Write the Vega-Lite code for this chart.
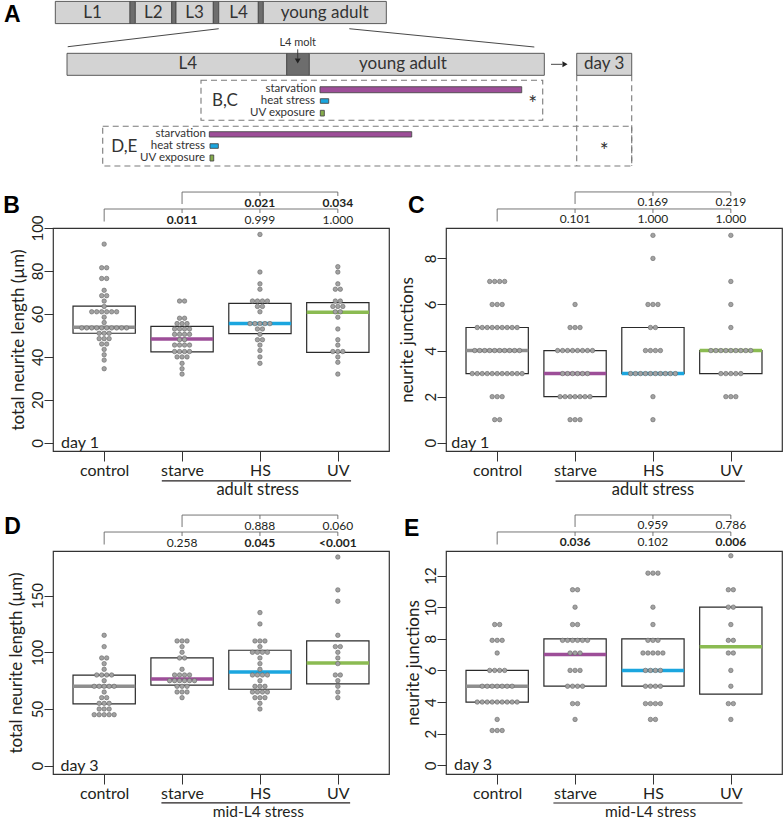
{
"$schema": "https://vega.github.io/schema/vega-lite/v6.json",
"padding": {"left": 2, "top": 0, "right": 0, "bottom": 0},
"background": "white",
"config": {
  "font": "Lato",
  "view": {"stroke": "#333", "strokeWidth": 1.2},
  "axis": {"grid": false, "domain": false, "tickColor": "#333", "tickWidth": 1, "labelColor": "#231f20", "titleColor": "#231f20", "titleFontWeight": "normal", "labelFontSize": 15, "titleFontSize": 17, "labelOverlap": false, "labelSeparation": 0},
  "axisX": {"tickSize": 10, "labelPadding": 1, "labelFontSize": 16},
  "axisY": {"tickSize": 9, "labelPadding": 2, "labelAngle": -90, "labelAlign": "center", "labelBaseline": "alphabetic"}
},
"datasets": {
  "box": [
    {"p":"B","g":1,"q1":51,"med":53.8,"q3":63.6},{"p":"B","g":2,"q1":42.3,"med":48.3,"q3":54.2},{"p":"B","g":3,"q1":50.8,"med":55.5,"q3":64.9},{"p":"B","g":4,"q1":42.1,"med":60.8,"q3":65.3},
    {"p":"C","g":1,"q1":3,"med":4,"q3":5},{"p":"C","g":2,"q1":2,"med":3,"q3":4},{"p":"C","g":3,"q1":3,"med":3,"q3":5},{"p":"C","g":4,"q1":3,"med":4,"q3":4},
    {"p":"D","g":1,"q1":54.6,"med":70,"q3":79.8},{"p":"D","g":2,"q1":71,"med":76.5,"q3":95.1},{"p":"D","g":3,"q1":67.4,"med":82.7,"q3":101.8},{"p":"D","g":4,"q1":72.2,"med":90.6,"q3":110},
    {"p":"E","g":1,"q1":4,"med":5,"q3":6},{"p":"E","g":2,"q1":5,"med":7,"q3":8},{"p":"E","g":3,"q1":5,"med":6,"q3":8},{"p":"E","g":4,"q1":4.5,"med":7.5,"q3":10}
  ],
  "pts": [
    {"p":"B","g":1,"v":92.5},{"p":"B","g":1,"v":81.5},{"p":"B","g":1,"v":81.5},{"p":"B","g":1,"v":76.5},{"p":"B","g":1,"v":76.5},{"p":"B","g":1,"v":71},{"p":"B","g":1,"v":68.5},{"p":"B","g":1,"v":68.5},{"p":"B","g":1,"v":66},{"p":"B","g":1,"v":63.5},
    {"p":"B","g":1,"v":61},{"p":"B","g":1,"v":61},{"p":"B","g":1,"v":61},{"p":"B","g":1,"v":61},{"p":"B","g":1,"v":61},{"p":"B","g":1,"v":61},{"p":"B","g":1,"v":58.5},{"p":"B","g":1,"v":56},
    {"p":"B","g":1,"v":53.5},{"p":"B","g":1,"v":53.5},{"p":"B","g":1,"v":53.5},{"p":"B","g":1,"v":53.5},{"p":"B","g":1,"v":53.5},{"p":"B","g":1,"v":53.5},{"p":"B","g":1,"v":53.5},{"p":"B","g":1,"v":53.5},{"p":"B","g":1,"v":53.5},{"p":"B","g":1,"v":53.5},
    {"p":"B","g":1,"v":51},{"p":"B","g":1,"v":51},{"p":"B","g":1,"v":51},{"p":"B","g":1,"v":48.5},{"p":"B","g":1,"v":48.5},{"p":"B","g":1,"v":48.5},{"p":"B","g":1,"v":46},{"p":"B","g":1,"v":46},{"p":"B","g":1,"v":43.5},{"p":"B","g":1,"v":41},{"p":"B","g":1,"v":38.5},{"p":"B","g":1,"v":34.5},
    {"p":"B","g":2,"v":66},{"p":"B","g":2,"v":66},{"p":"B","g":2,"v":58},{"p":"B","g":2,"v":58},{"p":"B","g":2,"v":55.5},{"p":"B","g":2,"v":55.5},{"p":"B","g":2,"v":55.5},{"p":"B","g":2,"v":53},{"p":"B","g":2,"v":53},{"p":"B","g":2,"v":53},{"p":"B","g":2,"v":53},
    {"p":"B","g":2,"v":50.5},{"p":"B","g":2,"v":50.5},{"p":"B","g":2,"v":50.5},{"p":"B","g":2,"v":50.5},{"p":"B","g":2,"v":48},{"p":"B","g":2,"v":48},{"p":"B","g":2,"v":45.5},{"p":"B","g":2,"v":45.5},{"p":"B","g":2,"v":45.5},{"p":"B","g":2,"v":45.5},
    {"p":"B","g":2,"v":42.5},{"p":"B","g":2,"v":42.5},{"p":"B","g":2,"v":42.5},{"p":"B","g":2,"v":42.5},{"p":"B","g":2,"v":40},{"p":"B","g":2,"v":40},{"p":"B","g":2,"v":40},{"p":"B","g":2,"v":37},{"p":"B","g":2,"v":34.5},{"p":"B","g":2,"v":32},
    {"p":"B","g":3,"v":97},{"p":"B","g":3,"v":79.5},{"p":"B","g":3,"v":74},{"p":"B","g":3,"v":71.5},{"p":"B","g":3,"v":66},{"p":"B","g":3,"v":66},{"p":"B","g":3,"v":66},{"p":"B","g":3,"v":66},{"p":"B","g":3,"v":63.5},{"p":"B","g":3,"v":63.5},{"p":"B","g":3,"v":61},
    {"p":"B","g":3,"v":55.5},{"p":"B","g":3,"v":55.5},{"p":"B","g":3,"v":55.5},{"p":"B","g":3,"v":55.5},{"p":"B","g":3,"v":55.5},{"p":"B","g":3,"v":53},{"p":"B","g":3,"v":53},{"p":"B","g":3,"v":50.5},{"p":"B","g":3,"v":48},{"p":"B","g":3,"v":48},{"p":"B","g":3,"v":45.5},{"p":"B","g":3,"v":43},{"p":"B","g":3,"v":40},{"p":"B","g":3,"v":37},
    {"p":"B","g":4,"v":82},{"p":"B","g":4,"v":79.5},{"p":"B","g":4,"v":74},{"p":"B","g":4,"v":71.5},{"p":"B","g":4,"v":71.5},{"p":"B","g":4,"v":66},{"p":"B","g":4,"v":66},{"p":"B","g":4,"v":63.5},{"p":"B","g":4,"v":63.5},{"p":"B","g":4,"v":63.5},{"p":"B","g":4,"v":61},{"p":"B","g":4,"v":61},
    {"p":"B","g":4,"v":58.5},{"p":"B","g":4,"v":53},{"p":"B","g":4,"v":48},{"p":"B","g":4,"v":45.5},{"p":"B","g":4,"v":42.5},{"p":"B","g":4,"v":42.5},{"p":"B","g":4,"v":42.5},{"p":"B","g":4,"v":40},{"p":"B","g":4,"v":37.5},{"p":"B","g":4,"v":32},
    {"p":"C","g":1,"v":7},{"p":"C","g":1,"v":7},{"p":"C","g":1,"v":7},{"p":"C","g":1,"v":7},{"p":"C","g":1,"v":6},{"p":"C","g":1,"v":6},{"p":"C","g":1,"v":6},
    {"p":"C","g":1,"v":5},{"p":"C","g":1,"v":5},{"p":"C","g":1,"v":5},{"p":"C","g":1,"v":5},{"p":"C","g":1,"v":5},{"p":"C","g":1,"v":5},{"p":"C","g":1,"v":5},{"p":"C","g":1,"v":5},{"p":"C","g":1,"v":5},
    {"p":"C","g":1,"v":4},{"p":"C","g":1,"v":4},{"p":"C","g":1,"v":4},{"p":"C","g":1,"v":4},{"p":"C","g":1,"v":4},{"p":"C","g":1,"v":4},{"p":"C","g":1,"v":4},{"p":"C","g":1,"v":4},{"p":"C","g":1,"v":4},{"p":"C","g":1,"v":4},
    {"p":"C","g":1,"v":3},{"p":"C","g":1,"v":3},{"p":"C","g":1,"v":3},{"p":"C","g":1,"v":3},{"p":"C","g":1,"v":3},{"p":"C","g":1,"v":3},{"p":"C","g":1,"v":3},{"p":"C","g":1,"v":3},{"p":"C","g":1,"v":3},{"p":"C","g":1,"v":3},{"p":"C","g":1,"v":3},
    {"p":"C","g":1,"v":2},{"p":"C","g":1,"v":2},{"p":"C","g":1,"v":2},{"p":"C","g":1,"v":1},{"p":"C","g":1,"v":1},
    {"p":"C","g":2,"v":6},{"p":"C","g":2,"v":5},{"p":"C","g":2,"v":5},{"p":"C","g":2,"v":5},
    {"p":"C","g":2,"v":4},{"p":"C","g":2,"v":4},{"p":"C","g":2,"v":4},{"p":"C","g":2,"v":4},{"p":"C","g":2,"v":4},{"p":"C","g":2,"v":4},{"p":"C","g":2,"v":4},{"p":"C","g":2,"v":4},
    {"p":"C","g":2,"v":3},{"p":"C","g":2,"v":3},{"p":"C","g":2,"v":3},{"p":"C","g":2,"v":3},{"p":"C","g":2,"v":3},{"p":"C","g":2,"v":3},
    {"p":"C","g":2,"v":2},{"p":"C","g":2,"v":2},{"p":"C","g":2,"v":2},{"p":"C","g":2,"v":2},{"p":"C","g":2,"v":2},{"p":"C","g":2,"v":2},{"p":"C","g":2,"v":2},
    {"p":"C","g":2,"v":1},{"p":"C","g":2,"v":1},{"p":"C","g":2,"v":1},
    {"p":"C","g":3,"v":9},{"p":"C","g":3,"v":8},{"p":"C","g":3,"v":6},{"p":"C","g":3,"v":6},{"p":"C","g":3,"v":6},{"p":"C","g":3,"v":5},{"p":"C","g":3,"v":5},
    {"p":"C","g":3,"v":4},{"p":"C","g":3,"v":4},{"p":"C","g":3,"v":4},{"p":"C","g":3,"v":4},
    {"p":"C","g":3,"v":3},{"p":"C","g":3,"v":3},{"p":"C","g":3,"v":3},{"p":"C","g":3,"v":3},{"p":"C","g":3,"v":3},{"p":"C","g":3,"v":3},{"p":"C","g":3,"v":3},{"p":"C","g":3,"v":3},{"p":"C","g":3,"v":3},{"p":"C","g":3,"v":3},
    {"p":"C","g":3,"v":2},{"p":"C","g":3,"v":1},
    {"p":"C","g":4,"v":9},{"p":"C","g":4,"v":7},{"p":"C","g":4,"v":6},{"p":"C","g":4,"v":5},
    {"p":"C","g":4,"v":4},{"p":"C","g":4,"v":4},{"p":"C","g":4,"v":4},{"p":"C","g":4,"v":4},{"p":"C","g":4,"v":4},{"p":"C","g":4,"v":4},{"p":"C","g":4,"v":4},{"p":"C","g":4,"v":4},{"p":"C","g":4,"v":4},
    {"p":"C","g":4,"v":3},{"p":"C","g":4,"v":3},{"p":"C","g":4,"v":3},{"p":"C","g":4,"v":3},{"p":"C","g":4,"v":3},
    {"p":"C","g":4,"v":2},{"p":"C","g":4,"v":2},{"p":"C","g":4,"v":2},
    {"p":"D","g":1,"v":115},{"p":"D","g":1,"v":105},{"p":"D","g":1,"v":95},{"p":"D","g":1,"v":95},{"p":"D","g":1,"v":90},{"p":"D","g":1,"v":85},
    {"p":"D","g":1,"v":80},{"p":"D","g":1,"v":80},{"p":"D","g":1,"v":80},{"p":"D","g":1,"v":80},{"p":"D","g":1,"v":75},
    {"p":"D","g":1,"v":70},{"p":"D","g":1,"v":70},{"p":"D","g":1,"v":70},{"p":"D","g":1,"v":70},{"p":"D","g":1,"v":70},{"p":"D","g":1,"v":65},{"p":"D","g":1,"v":60},{"p":"D","g":1,"v":60},
    {"p":"D","g":1,"v":55},{"p":"D","g":1,"v":55},{"p":"D","g":1,"v":55},{"p":"D","g":1,"v":50},{"p":"D","g":1,"v":50},{"p":"D","g":1,"v":50},
    {"p":"D","g":1,"v":45},{"p":"D","g":1,"v":45},{"p":"D","g":1,"v":45},{"p":"D","g":1,"v":45},{"p":"D","g":1,"v":45},
    {"p":"D","g":2,"v":110},{"p":"D","g":2,"v":110},{"p":"D","g":2,"v":110},{"p":"D","g":2,"v":105},{"p":"D","g":2,"v":100},{"p":"D","g":2,"v":95},{"p":"D","g":2,"v":95},{"p":"D","g":2,"v":85},
    {"p":"D","g":2,"v":80},{"p":"D","g":2,"v":80},{"p":"D","g":2,"v":80},{"p":"D","g":2,"v":80},
    {"p":"D","g":2,"v":75},{"p":"D","g":2,"v":75},{"p":"D","g":2,"v":75},{"p":"D","g":2,"v":75},{"p":"D","g":2,"v":75},{"p":"D","g":2,"v":75},
    {"p":"D","g":2,"v":70},{"p":"D","g":2,"v":70},{"p":"D","g":2,"v":70},{"p":"D","g":2,"v":65},{"p":"D","g":2,"v":65},{"p":"D","g":2,"v":65},{"p":"D","g":2,"v":60},
    {"p":"D","g":3,"v":135},{"p":"D","g":3,"v":125},{"p":"D","g":3,"v":110},{"p":"D","g":3,"v":110},{"p":"D","g":3,"v":110},{"p":"D","g":3,"v":105},
    {"p":"D","g":3,"v":100},{"p":"D","g":3,"v":100},{"p":"D","g":3,"v":100},{"p":"D","g":3,"v":100},{"p":"D","g":3,"v":95},{"p":"D","g":3,"v":90},{"p":"D","g":3,"v":85},
    {"p":"D","g":3,"v":80},{"p":"D","g":3,"v":80},{"p":"D","g":3,"v":80},{"p":"D","g":3,"v":80},{"p":"D","g":3,"v":75},
    {"p":"D","g":3,"v":70},{"p":"D","g":3,"v":70},{"p":"D","g":3,"v":70},{"p":"D","g":3,"v":65},{"p":"D","g":3,"v":65},{"p":"D","g":3,"v":65},{"p":"D","g":3,"v":65},
    {"p":"D","g":3,"v":60},{"p":"D","g":3,"v":60},{"p":"D","g":3,"v":60},{"p":"D","g":3,"v":55},{"p":"D","g":3,"v":50},
    {"p":"D","g":4,"v":184},{"p":"D","g":4,"v":155},{"p":"D","g":4,"v":145},{"p":"D","g":4,"v":115},{"p":"D","g":4,"v":105},{"p":"D","g":4,"v":105},{"p":"D","g":4,"v":100},{"p":"D","g":4,"v":95},
    {"p":"D","g":4,"v":90},{"p":"D","g":4,"v":80},{"p":"D","g":4,"v":80},{"p":"D","g":4,"v":75},{"p":"D","g":4,"v":70},{"p":"D","g":4,"v":65},{"p":"D","g":4,"v":60},
    {"p":"E","g":1,"v":8.9},{"p":"E","g":1,"v":8.9},{"p":"E","g":1,"v":7.9},{"p":"E","g":1,"v":7.9},{"p":"E","g":1,"v":7.9},{"p":"E","g":1,"v":7.1},
    {"p":"E","g":1,"v":6},{"p":"E","g":1,"v":6},{"p":"E","g":1,"v":6},{"p":"E","g":1,"v":6},
    {"p":"E","g":1,"v":5},{"p":"E","g":1,"v":5},{"p":"E","g":1,"v":5},{"p":"E","g":1,"v":5},{"p":"E","g":1,"v":5},{"p":"E","g":1,"v":5},{"p":"E","g":1,"v":5},
    {"p":"E","g":1,"v":4},{"p":"E","g":1,"v":4},{"p":"E","g":1,"v":4},{"p":"E","g":1,"v":4},{"p":"E","g":1,"v":4},{"p":"E","g":1,"v":4},{"p":"E","g":1,"v":4},{"p":"E","g":1,"v":4},{"p":"E","g":1,"v":4},
    {"p":"E","g":1,"v":2.9},{"p":"E","g":1,"v":2.2},{"p":"E","g":1,"v":2.2},{"p":"E","g":1,"v":2.2},
    {"p":"E","g":2,"v":11.1},{"p":"E","g":2,"v":11.1},{"p":"E","g":2,"v":10},{"p":"E","g":2,"v":8.9},{"p":"E","g":2,"v":8.9},
    {"p":"E","g":2,"v":7.9},{"p":"E","g":2,"v":7.9},{"p":"E","g":2,"v":7.9},{"p":"E","g":2,"v":7.9},{"p":"E","g":2,"v":7.9},{"p":"E","g":2,"v":7.9},
    {"p":"E","g":2,"v":7.1},{"p":"E","g":2,"v":7.1},{"p":"E","g":2,"v":7.1},{"p":"E","g":2,"v":6},{"p":"E","g":2,"v":6},{"p":"E","g":2,"v":6},
    {"p":"E","g":2,"v":5},{"p":"E","g":2,"v":5},{"p":"E","g":2,"v":5},{"p":"E","g":2,"v":5},{"p":"E","g":2,"v":3.9},{"p":"E","g":2,"v":3.9},{"p":"E","g":2,"v":2.9},
    {"p":"E","g":3,"v":12.15},{"p":"E","g":3,"v":12.15},{"p":"E","g":3,"v":12.15},{"p":"E","g":3,"v":10},{"p":"E","g":3,"v":8.9},
    {"p":"E","g":3,"v":7.9},{"p":"E","g":3,"v":7.9},{"p":"E","g":3,"v":7.9},
    {"p":"E","g":3,"v":7.1},{"p":"E","g":3,"v":7.1},{"p":"E","g":3,"v":7.1},{"p":"E","g":3,"v":7.1},{"p":"E","g":3,"v":7.1},
    {"p":"E","g":3,"v":6},{"p":"E","g":3,"v":6},{"p":"E","g":3,"v":6},{"p":"E","g":3,"v":6},
    {"p":"E","g":3,"v":5},{"p":"E","g":3,"v":5},{"p":"E","g":3,"v":5},{"p":"E","g":3,"v":5},
    {"p":"E","g":3,"v":3.9},{"p":"E","g":3,"v":3.9},{"p":"E","g":3,"v":3.9},{"p":"E","g":3,"v":3.9},{"p":"E","g":3,"v":2.9},{"p":"E","g":3,"v":2.9},
    {"p":"E","g":4,"v":13.25},{"p":"E","g":4,"v":11.1},{"p":"E","g":4,"v":11.1},{"p":"E","g":4,"v":10},{"p":"E","g":4,"v":10},{"p":"E","g":4,"v":8.9},
    {"p":"E","g":4,"v":7.9},{"p":"E","g":4,"v":7.9},{"p":"E","g":4,"v":7.1},{"p":"E","g":4,"v":7.1},{"p":"E","g":4,"v":6},{"p":"E","g":4,"v":5},
    {"p":"E","g":4,"v":3.9},{"p":"E","g":4,"v":3.9},{"p":"E","g":4,"v":2.9}
  ],
  "brk": [
    {"p":"B","x":1,"x2":4,"y":108.84,"y2":108.84},{"p":"B","x":1,"x2":1,"y":108.84,"y2":103.02},{"p":"B","x":2,"x2":2,"y":108.84,"y2":106.98},{"p":"B","x":3,"x2":3,"y":108.84,"y2":106.98},{"p":"B","x":4,"x2":4,"y":108.84,"y2":106.98},
    {"p":"B","x":2,"x2":4,"y":116.74,"y2":116.74},{"p":"B","x":2,"x2":2,"y":116.74,"y2":111.16},{"p":"B","x":3,"x2":3,"y":116.74,"y2":114.88},{"p":"B","x":4,"x2":4,"y":116.74,"y2":114.88},
    {"p":"C","x":1,"x2":4,"y":10.146,"y2":10.146},{"p":"C","x":1,"x2":1,"y":10.146,"y2":9.603},{"p":"C","x":2,"x2":2,"y":10.146,"y2":9.972},{"p":"C","x":3,"x2":3,"y":10.146,"y2":9.972},{"p":"C","x":4,"x2":4,"y":10.146,"y2":9.972},
    {"p":"C","x":2,"x2":4,"y":10.885,"y2":10.885},{"p":"C","x":2,"x2":2,"y":10.885,"y2":10.363},{"p":"C","x":3,"x2":3,"y":10.885,"y2":10.711},{"p":"C","x":4,"x2":4,"y":10.885,"y2":10.711},
    {"p":"D","x":1,"x2":4,"y":206.03,"y2":206.03},{"p":"D","x":1,"x2":1,"y":206.03,"y2":195.02},{"p":"D","x":2,"x2":2,"y":206.03,"y2":202.5},{"p":"D","x":3,"x2":3,"y":206.03,"y2":202.5},{"p":"D","x":4,"x2":4,"y":206.03,"y2":202.5},
    {"p":"D","x":2,"x2":4,"y":220.99,"y2":220.99},{"p":"D","x":2,"x2":2,"y":220.99,"y2":210.43},{"p":"D","x":3,"x2":3,"y":220.99,"y2":217.47},{"p":"D","x":4,"x2":4,"y":220.99,"y2":217.47},
    {"p":"E","x":1,"x2":4,"y":14.753,"y2":14.753},{"p":"E","x":1,"x2":1,"y":14.753,"y2":13.961},{"p":"E","x":2,"x2":2,"y":14.753,"y2":14.499},{"p":"E","x":3,"x2":3,"y":14.753,"y2":14.499},{"p":"E","x":4,"x2":4,"y":14.753,"y2":14.499},
    {"p":"E","x":2,"x2":4,"y":15.828,"y2":15.828},{"p":"E","x":2,"x2":2,"y":15.828,"y2":15.069},{"p":"E","x":3,"x2":3,"y":15.828,"y2":15.575},{"p":"E","x":4,"x2":4,"y":15.828,"y2":15.575}
  ],
  "pv": [
    {"p":"B","g":3,"y":111.86,"t":"0.021","b":1},{"p":"B","g":4,"y":111.86,"t":"0.034","b":1},{"p":"B","g":2,"y":103.95,"t":"0.011","b":1},{"p":"B","g":3,"y":103.95,"t":"0.999","b":0},{"p":"B","g":4,"y":103.95,"t":"1.000","b":0},
    {"p":"C","g":3,"y":10.429,"t":"0.169","b":0},{"p":"C","g":4,"y":10.429,"t":"0.219","b":0},{"p":"C","g":2,"y":9.69,"t":"0.101","b":0},{"p":"C","g":3,"y":9.69,"t":"1.000","b":0},{"p":"C","g":4,"y":9.69,"t":"1.000","b":0},
    {"p":"D","g":3,"y":211.75,"t":"0.888","b":0},{"p":"D","g":4,"y":211.75,"t":"0.060","b":0},{"p":"D","g":2,"y":196.78,"t":"0.258","b":0},{"p":"D","g":3,"y":196.78,"t":"0.045","b":1},{"p":"D","g":4,"y":196.78,"t":"<0.001","b":1},
    {"p":"E","g":3,"y":15.164,"t":"0.959","b":0},{"p":"E","g":4,"y":15.164,"t":"0.786","b":0},{"p":"E","g":2,"y":14.088,"t":"0.036","b":1},{"p":"E","g":3,"y":14.088,"t":"0.102","b":0},{"p":"E","g":4,"y":14.088,"t":"0.006","b":1}
  ],
  "ann": [
    {"p":"B","k":"let","x":-0.297,"y":106.98,"t":"B"},{"p":"B","k":"day","x":0.446,"y":0,"t":"day 1"},{"p":"B","k":"grp","x":2.97,"y":-22.1,"t":"adult stress"},{"p":"B","k":"line","x":1.74,"x2":4.17,"y":-17.75},
    {"p":"C","k":"let","x":-0.144,"y":9.972,"t":"C"},{"p":"C","k":"day","x":0.41,"y":0,"t":"day 1"},{"p":"C","k":"grp","x":3.0,"y":-2.07,"t":"adult stress"},{"p":"C","k":"line","x":1.75,"x2":4.18,"y":-1.664},
    {"p":"D","k":"let","x":-0.284,"y":204.27,"t":"D"},{"p":"D","k":"day","x":0.44,"y":0,"t":"day 3"},{"p":"D","k":"grp","x":2.98,"y":-40.75,"t":"mid-L4 stress"},{"p":"D","k":"line","x":1.735,"x2":4.158,"y":-32.83},
    {"p":"E","k":"let","x":-0.195,"y":14.499,"t":"E"},{"p":"E","k":"day","x":0.446,"y":0,"t":"day 3"},{"p":"E","k":"grp","x":2.97,"y":-2.955,"t":"mid-L4 stress"},{"p":"E","k":"line","x":1.722,"x2":4.15,"y":-2.385}
  ],
  "diag": [
    {"k":"seg","c":"stage","x":13.58,"x2":32.25,"y":0.1,"y2":5.65},{"k":"seg","c":"molt","x":32.25,"x2":33.58,"y":0.1,"y2":5.65},
    {"k":"seg","c":"stage","x":33.58,"x2":42.68,"y":0.1,"y2":5.65},{"k":"seg","c":"molt","x":42.68,"x2":43.75,"y":0.1,"y2":5.65},
    {"k":"seg","c":"stage","x":43.75,"x2":53.08,"y":0.1,"y2":5.65},{"k":"seg","c":"molt","x":53.08,"x2":54.43,"y":0.1,"y2":5.65},
    {"k":"seg","c":"stage","x":54.43,"x2":64.33,"y":0.1,"y2":5.65},{"k":"seg","c":"molt","x":64.33,"x2":65.58,"y":0.1,"y2":5.65},
    {"k":"seg","c":"stage","x":65.58,"x2":96.33,"y":0.1,"y2":5.65},
    {"k":"seg","c":"stage","x":16.5,"x2":71.43,"y":13.08,"y2":18.58},{"k":"seg","c":"molt","x":71.43,"x2":77.08,"y":13.08,"y2":18.58},
    {"k":"seg","c":"stage","x":77.08,"x2":135.83,"y":13.08,"y2":18.58},{"k":"seg","c":"stage","x":143.93,"x2":157.68,"y":13.08,"y2":18.58},
    {"k":"bar","c":"starv","x":79.75,"x2":130.18,"y":21.43,"y2":22.93},{"k":"bar","c":"heat","x":79.83,"x2":81.93,"y":24.43,"y2":25.58},{"k":"bar","c":"uv","x":79.83,"x2":80.83,"y":27.33,"y2":28.75},
    {"k":"bar","c":"starv","x":52.08,"x2":102.68,"y":32.68,"y2":34.0},{"k":"bar","c":"heat","x":52.25,"x2":54.33,"y":35.68,"y2":36.83},{"k":"bar","c":"uv","x":52.25,"x2":53.18,"y":38.5,"y2":40.0},
    {"k":"line","x":54.43,"y":6.93,"x2":16.68,"y2":11.43},{"k":"line","x":87.08,"y":6.93,"x2":133.33,"y2":11.5},
    {"k":"line","x":74.18,"y":12.08,"x2":74.18,"y2":14.4},{"k":"line","x":137.5,"y":15.83,"x2":140.3,"y2":15.83},
    {"k":"arrow","d":"down","x":74.18,"y":15.0},{"k":"arrow","d":"right","x":141.0,"y":15.83},
    {"k":"dbox","x":50,"x2":135.43,"y":19.83,"y2":29.83},{"k":"dbox","x":25.43,"x2":157.68,"y":31.33,"y2":41.25},
    {"k":"dash","x":143.93,"x2":143.93,"y":18.58,"y2":41.25},{"k":"dash","x":157.68,"x2":157.68,"y":18.58,"y2":41.25},
    {"k":"big","x":22.9,"y":2.9,"t":"L1"},{"k":"big","x":38.1,"y":2.9,"t":"L2"},{"k":"big","x":48.4,"y":2.9,"t":"L3"},{"k":"big","x":59.4,"y":2.9,"t":"L4"},{"k":"big","x":80.9,"y":2.9,"t":"young adult"},
    {"k":"big","x":46.68,"y":15.83,"t":"L4"},{"k":"big","x":100.5,"y":15.83,"t":"young adult"},{"k":"big","x":150.8,"y":15.83,"t":"day 3"},
    {"k":"big","x":56,"y":25,"t":"B,C"},{"k":"big","x":30.83,"y":36.5,"t":"D,E"},
    {"k":"star","x":132.93,"y":24.58,"t":"*"},{"k":"star","x":150.83,"y":36.25,"t":"*"},
    {"k":"sm","x":74.18,"y":10.43,"t":"L4 molt"},
    {"k":"lab","x":78.75,"y":22.08,"t":"starvation"},{"k":"lab","x":78.5,"y":25,"t":"heat stress"},{"k":"lab","x":78.5,"y":28,"t":"UV exposure"},
    {"k":"lab","x":51.25,"y":33.33,"t":"starvation"},{"k":"lab","x":51,"y":36.25,"t":"heat stress"},{"k":"lab","x":51,"y":39.18,"t":"UV exposure"},
    {"k":"let","x":0.75,"y":5.25,"t":"A"}
  ]
},
"columns": 2,
"spacing": {"row": 100, "column": 57},
"bounds": "flush",
"align": "each",
"concat": [
  {
    "width": 336, "height": 127, "view": {"stroke": null},
    "data": {"name": "diag"},
    "encoding": {
      "x": {"field": "x", "type": "quantitative", "scale": {"domain": [13, 97], "nice": false, "zero": false}, "axis": null},
      "y": {"field": "y", "type": "quantitative", "scale": {"domain": [0, 31.75], "nice": false, "zero": false, "reverse": true}, "axis": null}
    },
    "layer": [
      {"transform": [{"filter": "datum.k=='dbox'"}], "mark": {"type": "rect", "fill": "white", "fillOpacity": 0, "stroke": "#7a7a7a", "strokeWidth": 1.1, "strokeDash": [6, 4], "clip": false}, "encoding": {"x2": {"field": "x2"}, "y2": {"field": "y2"}}},
      {"transform": [{"filter": "datum.k=='dash'"}], "mark": {"type": "rule", "stroke": "#7a7a7a", "strokeWidth": 1.1, "strokeDash": [6, 4], "clip": false}, "encoding": {"x2": {"field": "x2"}, "y2": {"field": "y2"}}},
      {"transform": [{"filter": "datum.k=='seg' || datum.k=='bar'"}], "mark": {"type": "rect", "stroke": "#4a4a4a", "strokeWidth": 0.9, "clip": false}, "encoding": {"x2": {"field": "x2"}, "y2": {"field": "y2"}, "fill": {"field": "c", "type": "nominal", "scale": {"domain": ["stage", "molt", "starv", "heat", "uv"], "range": ["#d3d3d3", "#6d6d6d", "#9d4e98", "#1aa6df", "#85ac4b"]}, "legend": null}}},
      {"transform": [{"filter": "datum.k=='line'"}], "mark": {"type": "rule", "stroke": "#333", "strokeWidth": 0.9, "clip": false}, "encoding": {"x2": {"field": "x2"}, "y2": {"field": "y2"}}},
      {"transform": [{"filter": "datum.k=='arrow'"}], "mark": {"type": "point", "filled": true, "fill": "#222", "opacity": 1, "size": 35, "clip": false}, "encoding": {"shape": {"field": "d", "type": "nominal", "scale": {"domain": ["down", "right"], "range": ["triangle-down", "triangle-right"]}, "legend": null}}},
      {"transform": [{"filter": "datum.k=='big'"}], "mark": {"type": "text", "fontSize": 17, "align": "center", "baseline": "middle", "fill": "#333", "clip": false}, "encoding": {"text": {"field": "t"}}},
      {"transform": [{"filter": "datum.k=='star'"}], "mark": {"type": "text", "fontSize": 21, "align": "center", "baseline": "middle", "dy": 6, "fill": "#333", "clip": false}, "encoding": {"text": {"field": "t"}}},
      {"transform": [{"filter": "datum.k=='sm'"}], "mark": {"type": "text", "fontSize": 11, "align": "center", "baseline": "middle", "fill": "#333", "clip": false}, "encoding": {"text": {"field": "t"}}},
      {"transform": [{"filter": "datum.k=='lab'"}], "mark": {"type": "text", "fontSize": 11.5, "align": "right", "baseline": "middle", "fill": "#333", "clip": false}, "encoding": {"text": {"field": "t"}}},
      {"transform": [{"filter": "datum.k=='let'"}], "mark": {"type": "text", "font": "Liberation Sans", "fontSize": 23, "fontWeight": "bold", "align": "left", "baseline": "alphabetic", "fill": "#000", "clip": false}, "encoding": {"text": {"field": "t"}}}
    ]
  },
  {"width": 336, "height": 127, "view": {"stroke": null}, "data": {"values": [{"a": 0}]}, "mark": {"type": "point", "opacity": 0}, "encoding": {}},
  {
    "width": 336, "height": 223,
    "layer": [
      {"data": {"name": "box"}, "transform": [{"filter": "datum.p=='B'"}, {"calculate": "datum.g-0.4", "as": "xl"}, {"calculate": "datum.g+0.4", "as": "xr"}],
       "mark": {"type": "rect", "fill": "white", "fillOpacity": 0, "stroke": "#2a2a2a", "strokeWidth": 1.2},
       "encoding": {
         "x": {"field": "xl", "type": "quantitative", "title": null, "scale": {"domain": [0.343, 4.657], "nice": false, "zero": false}, "axis": {"values": [1, 2, 3, 4], "tickCount": 20, "labelExpr": "['','control','starve','HS','UV'][datum.value]", "labelOverlap": false}},
         "x2": {"field": "xr"},
         "y": {"field": "q1", "type": "quantitative", "title": "total neurite length (µm)", "scale": {"domain": [-3.8, 100], "nice": false, "zero": false}, "axis": {"values": [0, 20, 40, 60, 80, 100], "tickCount": 20, "format": "d", "titlePadding": 3, "labelOverlap": false}},
         "y2": {"field": "q3"}}},
      {"data": {"name": "box"}, "transform": [{"filter": "datum.p=='B'"}, {"calculate": "datum.g-0.4", "as": "xl"}, {"calculate": "datum.g+0.4", "as": "xr"}],
       "mark": {"type": "rule", "strokeWidth": 3.5},
       "encoding": {"x": {"field": "xl", "type": "quantitative", "title": null}, "x2": {"field": "xr"}, "y": {"field": "med", "type": "quantitative", "title": "total neurite length (µm)"}, "color": {"field": "g", "type": "nominal", "scale": {"domain": [1, 2, 3, 4], "range": ["#8e8e8e", "#9d4e98", "#1ba6df", "#8bbb52"]}, "legend": null}}},
      {"data": {"name": "pts"}, "transform": [{"filter": "datum.p=='B'"}, {"window": [{"op": "row_number", "as": "r"}, {"op": "count", "as": "n"}], "groupby": ["g", "v"], "frame": [null, null]}, {"calculate": "datum.g+(datum.r-(datum.n+1)/2)*0.064", "as": "xp"}],
       "mark": {"type": "circle", "size": 20, "fill": "#a2a2a2", "fillOpacity": 1, "opacity": 1, "stroke": "#666", "strokeWidth": 0.6},
       "encoding": {"x": {"field": "xp", "type": "quantitative", "title": null}, "y": {"field": "v", "type": "quantitative", "title": "total neurite length (µm)"}}},
      {"data": {"name": "brk"}, "transform": [{"filter": "datum.p=='B'"}],
       "mark": {"type": "rule", "stroke": "#666", "strokeWidth": 0.9, "clip": false},
       "encoding": {"x": {"field": "x", "type": "quantitative", "title": null}, "x2": {"field": "x2"}, "y": {"field": "y", "type": "quantitative", "title": "total neurite length (µm)"}, "y2": {"field": "y2"}}},
      {"data": {"name": "pv"}, "transform": [{"filter": "datum.p=='B' && datum.b==0"}],
       "mark": {"type": "text", "fontSize": 12, "baseline": "middle", "fill": "#231f20", "clip": false},
       "encoding": {"x": {"field": "g", "type": "quantitative", "title": null}, "y": {"field": "y", "type": "quantitative", "title": "total neurite length (µm)"}, "text": {"field": "t"}}},
      {"data": {"name": "pv"}, "transform": [{"filter": "datum.p=='B' && datum.b==1"}],
       "mark": {"type": "text", "fontSize": 12, "fontWeight": "bold", "baseline": "middle", "fill": "#231f20", "clip": false},
       "encoding": {"x": {"field": "g", "type": "quantitative", "title": null}, "y": {"field": "y", "type": "quantitative", "title": "total neurite length (µm)"}, "text": {"field": "t"}}},
      {"data": {"name": "ann"}, "transform": [{"filter": "datum.p=='B' && datum.k=='let'"}],
       "mark": {"type": "text", "font": "Liberation Sans", "fontSize": 23, "fontWeight": "bold", "align": "left", "baseline": "alphabetic", "fill": "#000", "clip": false},
       "encoding": {"x": {"field": "x", "type": "quantitative", "title": null}, "y": {"field": "y", "type": "quantitative", "title": "total neurite length (µm)"}, "text": {"field": "t"}}},
      {"data": {"name": "ann"}, "transform": [{"filter": "datum.p=='B' && datum.k=='day'"}],
       "mark": {"type": "text", "fontSize": 16, "align": "left", "baseline": "middle", "fill": "#231f20", "clip": false},
       "encoding": {"x": {"field": "x", "type": "quantitative", "title": null}, "y": {"field": "y", "type": "quantitative", "title": "total neurite length (µm)"}, "text": {"field": "t"}}},
      {"data": {"name": "ann"}, "transform": [{"filter": "datum.p=='B' && datum.k=='grp'"}],
       "mark": {"type": "text", "fontSize": 16.5, "align": "center", "baseline": "middle", "fill": "#231f20", "clip": false},
       "encoding": {"x": {"field": "x", "type": "quantitative", "title": null}, "y": {"field": "y", "type": "quantitative", "title": "total neurite length (µm)"}, "text": {"field": "t"}}},
      {"data": {"name": "ann"}, "transform": [{"filter": "datum.p=='B' && datum.k=='line'"}],
       "mark": {"type": "rule", "stroke": "#231f20", "strokeWidth": 1.2, "clip": false},
       "encoding": {"x": {"field": "x", "type": "quantitative", "title": null}, "x2": {"field": "x2"}, "y": {"field": "y", "type": "quantitative", "title": "total neurite length (µm)"}}}
    ]
  },
  {
    "width": 336, "height": 223,
    "layer": [
      {"data": {"name": "box"}, "transform": [{"filter": "datum.p=='C'"}, {"calculate": "datum.g-0.4", "as": "xl"}, {"calculate": "datum.g+0.4", "as": "xr"}],
       "mark": {"type": "rect", "fill": "white", "fillOpacity": 0, "stroke": "#2a2a2a", "strokeWidth": 1.2},
       "encoding": {
         "x": {"field": "xl", "type": "quantitative", "title": null, "scale": {"domain": [0.343, 4.657], "nice": false, "zero": false}, "axis": {"values": [1, 2, 3, 4], "tickCount": 20, "labelExpr": "['','control','starve','HS','UV'][datum.value]", "labelOverlap": false}},
         "x2": {"field": "xr"},
         "y": {"field": "q1", "type": "quantitative", "title": "neurite junctions", "scale": {"domain": [-0.36, 9.32], "nice": false, "zero": false}, "axis": {"values": [0, 2, 4, 6, 8], "tickCount": 20, "format": "d", "titlePadding": 7, "labelOverlap": false}},
         "y2": {"field": "q3"}}},
      {"data": {"name": "box"}, "transform": [{"filter": "datum.p=='C'"}, {"calculate": "datum.g-0.4", "as": "xl"}, {"calculate": "datum.g+0.4", "as": "xr"}],
       "mark": {"type": "rule", "strokeWidth": 3.5},
       "encoding": {"x": {"field": "xl", "type": "quantitative", "title": null}, "x2": {"field": "xr"}, "y": {"field": "med", "type": "quantitative", "title": "neurite junctions"}, "color": {"field": "g", "type": "nominal", "scale": {"domain": [1, 2, 3, 4], "range": ["#8e8e8e", "#9d4e98", "#1ba6df", "#8bbb52"]}, "legend": null}}},
      {"data": {"name": "pts"}, "transform": [{"filter": "datum.p=='C'"}, {"window": [{"op": "row_number", "as": "r"}, {"op": "count", "as": "n"}], "groupby": ["g", "v"], "frame": [null, null]}, {"calculate": "datum.g+(datum.r-(datum.n+1)/2)*0.064", "as": "xp"}],
       "mark": {"type": "circle", "size": 20, "fill": "#a2a2a2", "fillOpacity": 1, "opacity": 1, "stroke": "#666", "strokeWidth": 0.6},
       "encoding": {"x": {"field": "xp", "type": "quantitative", "title": null}, "y": {"field": "v", "type": "quantitative", "title": "neurite junctions"}}},
      {"data": {"name": "brk"}, "transform": [{"filter": "datum.p=='C'"}],
       "mark": {"type": "rule", "stroke": "#666", "strokeWidth": 0.9, "clip": false},
       "encoding": {"x": {"field": "x", "type": "quantitative", "title": null}, "x2": {"field": "x2"}, "y": {"field": "y", "type": "quantitative", "title": "neurite junctions"}, "y2": {"field": "y2"}}},
      {"data": {"name": "pv"}, "transform": [{"filter": "datum.p=='C' && datum.b==0"}],
       "mark": {"type": "text", "fontSize": 12, "baseline": "middle", "fill": "#231f20", "clip": false},
       "encoding": {"x": {"field": "g", "type": "quantitative", "title": null}, "y": {"field": "y", "type": "quantitative", "title": "neurite junctions"}, "text": {"field": "t"}}},
      {"data": {"name": "pv"}, "transform": [{"filter": "datum.p=='C' && datum.b==1"}],
       "mark": {"type": "text", "fontSize": 12, "fontWeight": "bold", "baseline": "middle", "fill": "#231f20", "clip": false},
       "encoding": {"x": {"field": "g", "type": "quantitative", "title": null}, "y": {"field": "y", "type": "quantitative", "title": "neurite junctions"}, "text": {"field": "t"}}},
      {"data": {"name": "ann"}, "transform": [{"filter": "datum.p=='C' && datum.k=='let'"}],
       "mark": {"type": "text", "font": "Liberation Sans", "fontSize": 23, "fontWeight": "bold", "align": "left", "baseline": "alphabetic", "fill": "#000", "clip": false},
       "encoding": {"x": {"field": "x", "type": "quantitative", "title": null}, "y": {"field": "y", "type": "quantitative", "title": "neurite junctions"}, "text": {"field": "t"}}},
      {"data": {"name": "ann"}, "transform": [{"filter": "datum.p=='C' && datum.k=='day'"}],
       "mark": {"type": "text", "fontSize": 16, "align": "left", "baseline": "middle", "fill": "#231f20", "clip": false},
       "encoding": {"x": {"field": "x", "type": "quantitative", "title": null}, "y": {"field": "y", "type": "quantitative", "title": "neurite junctions"}, "text": {"field": "t"}}},
      {"data": {"name": "ann"}, "transform": [{"filter": "datum.p=='C' && datum.k=='grp'"}],
       "mark": {"type": "text", "fontSize": 16.5, "align": "center", "baseline": "middle", "fill": "#231f20", "clip": false},
       "encoding": {"x": {"field": "x", "type": "quantitative", "title": null}, "y": {"field": "y", "type": "quantitative", "title": "neurite junctions"}, "text": {"field": "t"}}},
      {"data": {"name": "ann"}, "transform": [{"filter": "datum.p=='C' && datum.k=='line'"}],
       "mark": {"type": "rule", "stroke": "#231f20", "strokeWidth": 1.2, "clip": false},
       "encoding": {"x": {"field": "x", "type": "quantitative", "title": null}, "x2": {"field": "x2"}, "y": {"field": "y", "type": "quantitative", "title": "neurite junctions"}}}
    ]
  },
  {
    "width": 336, "height": 223,
    "layer": [
      {"data": {"name": "box"}, "transform": [{"filter": "datum.p=='D'"}, {"calculate": "datum.g-0.4", "as": "xl"}, {"calculate": "datum.g+0.4", "as": "xr"}],
       "mark": {"type": "rect", "fill": "white", "fillOpacity": 0, "stroke": "#2a2a2a", "strokeWidth": 1.2},
       "encoding": {
         "x": {"field": "xl", "type": "quantitative", "title": null, "scale": {"domain": [0.343, 4.657], "nice": false, "zero": false}, "axis": {"values": [1, 2, 3, 4], "tickCount": 20, "labelExpr": "['','control','starve','HS','UV'][datum.value]", "labelOverlap": false}},
         "x2": {"field": "xr"},
         "y": {"field": "q1", "type": "quantitative", "title": "total neurite length (µm)", "scale": {"domain": [-7.3, 189.3], "nice": false, "zero": false}, "axis": {"values": [0, 50, 100, 150], "tickCount": 20, "format": "d", "titlePadding": 5, "labelOverlap": false}},
         "y2": {"field": "q3"}}},
      {"data": {"name": "box"}, "transform": [{"filter": "datum.p=='D'"}, {"calculate": "datum.g-0.4", "as": "xl"}, {"calculate": "datum.g+0.4", "as": "xr"}],
       "mark": {"type": "rule", "strokeWidth": 3.5},
       "encoding": {"x": {"field": "xl", "type": "quantitative", "title": null}, "x2": {"field": "xr"}, "y": {"field": "med", "type": "quantitative", "title": "total neurite length (µm)"}, "color": {"field": "g", "type": "nominal", "scale": {"domain": [1, 2, 3, 4], "range": ["#8e8e8e", "#9d4e98", "#1ba6df", "#8bbb52"]}, "legend": null}}},
      {"data": {"name": "pts"}, "transform": [{"filter": "datum.p=='D'"}, {"window": [{"op": "row_number", "as": "r"}, {"op": "count", "as": "n"}], "groupby": ["g", "v"], "frame": [null, null]}, {"calculate": "datum.g+(datum.r-(datum.n+1)/2)*0.064", "as": "xp"}],
       "mark": {"type": "circle", "size": 20, "fill": "#a2a2a2", "fillOpacity": 1, "opacity": 1, "stroke": "#666", "strokeWidth": 0.6},
       "encoding": {"x": {"field": "xp", "type": "quantitative", "title": null}, "y": {"field": "v", "type": "quantitative", "title": "total neurite length (µm)"}}},
      {"data": {"name": "brk"}, "transform": [{"filter": "datum.p=='D'"}],
       "mark": {"type": "rule", "stroke": "#666", "strokeWidth": 0.9, "clip": false},
       "encoding": {"x": {"field": "x", "type": "quantitative", "title": null}, "x2": {"field": "x2"}, "y": {"field": "y", "type": "quantitative", "title": "total neurite length (µm)"}, "y2": {"field": "y2"}}},
      {"data": {"name": "pv"}, "transform": [{"filter": "datum.p=='D' && datum.b==0"}],
       "mark": {"type": "text", "fontSize": 12, "baseline": "middle", "fill": "#231f20", "clip": false},
       "encoding": {"x": {"field": "g", "type": "quantitative", "title": null}, "y": {"field": "y", "type": "quantitative", "title": "total neurite length (µm)"}, "text": {"field": "t"}}},
      {"data": {"name": "pv"}, "transform": [{"filter": "datum.p=='D' && datum.b==1"}],
       "mark": {"type": "text", "fontSize": 12, "fontWeight": "bold", "baseline": "middle", "fill": "#231f20", "clip": false},
       "encoding": {"x": {"field": "g", "type": "quantitative", "title": null}, "y": {"field": "y", "type": "quantitative", "title": "total neurite length (µm)"}, "text": {"field": "t"}}},
      {"data": {"name": "ann"}, "transform": [{"filter": "datum.p=='D' && datum.k=='let'"}],
       "mark": {"type": "text", "font": "Liberation Sans", "fontSize": 23, "fontWeight": "bold", "align": "left", "baseline": "alphabetic", "fill": "#000", "clip": false},
       "encoding": {"x": {"field": "x", "type": "quantitative", "title": null}, "y": {"field": "y", "type": "quantitative", "title": "total neurite length (µm)"}, "text": {"field": "t"}}},
      {"data": {"name": "ann"}, "transform": [{"filter": "datum.p=='D' && datum.k=='day'"}],
       "mark": {"type": "text", "fontSize": 16, "align": "left", "baseline": "middle", "fill": "#231f20", "clip": false},
       "encoding": {"x": {"field": "x", "type": "quantitative", "title": null}, "y": {"field": "y", "type": "quantitative", "title": "total neurite length (µm)"}, "text": {"field": "t"}}},
      {"data": {"name": "ann"}, "transform": [{"filter": "datum.p=='D' && datum.k=='grp'"}],
       "mark": {"type": "text", "fontSize": 15.5, "align": "center", "baseline": "middle", "fill": "#231f20", "clip": false},
       "encoding": {"x": {"field": "x", "type": "quantitative", "title": null}, "y": {"field": "y", "type": "quantitative", "title": "total neurite length (µm)"}, "text": {"field": "t"}}},
      {"data": {"name": "ann"}, "transform": [{"filter": "datum.p=='D' && datum.k=='line'"}],
       "mark": {"type": "rule", "stroke": "#231f20", "strokeWidth": 1.2, "clip": false},
       "encoding": {"x": {"field": "x", "type": "quantitative", "title": null}, "x2": {"field": "x2"}, "y": {"field": "y", "type": "quantitative", "title": "total neurite length (µm)"}}}
    ]
  },
  {
    "width": 336, "height": 223,
    "layer": [
      {"data": {"name": "box"}, "transform": [{"filter": "datum.p=='E'"}, {"calculate": "datum.g-0.4", "as": "xl"}, {"calculate": "datum.g+0.4", "as": "xr"}],
       "mark": {"type": "rect", "fill": "white", "fillOpacity": 0, "stroke": "#2a2a2a", "strokeWidth": 1.2},
       "encoding": {
         "x": {"field": "xl", "type": "quantitative", "title": null, "scale": {"domain": [0.343, 4.657], "nice": false, "zero": false}, "axis": {"values": [1, 2, 3, 4], "tickCount": 20, "labelExpr": "['','control','starve','HS','UV'][datum.value]", "labelOverlap": false}},
         "x2": {"field": "xr"},
         "y": {"field": "q1", "type": "quantitative", "title": "neurite junctions", "scale": {"domain": [-0.55, 13.55], "nice": false, "zero": false}, "axis": {"values": [0, 2, 4, 6, 8, 10, 12], "tickCount": 20, "format": "d", "titlePadding": 1, "labelOverlap": false}},
         "y2": {"field": "q3"}}},
      {"data": {"name": "box"}, "transform": [{"filter": "datum.p=='E'"}, {"calculate": "datum.g-0.4", "as": "xl"}, {"calculate": "datum.g+0.4", "as": "xr"}],
       "mark": {"type": "rule", "strokeWidth": 3.5},
       "encoding": {"x": {"field": "xl", "type": "quantitative", "title": null}, "x2": {"field": "xr"}, "y": {"field": "med", "type": "quantitative", "title": "neurite junctions"}, "color": {"field": "g", "type": "nominal", "scale": {"domain": [1, 2, 3, 4], "range": ["#8e8e8e", "#9d4e98", "#1ba6df", "#8bbb52"]}, "legend": null}}},
      {"data": {"name": "pts"}, "transform": [{"filter": "datum.p=='E'"}, {"window": [{"op": "row_number", "as": "r"}, {"op": "count", "as": "n"}], "groupby": ["g", "v"], "frame": [null, null]}, {"calculate": "datum.g+(datum.r-(datum.n+1)/2)*0.064", "as": "xp"}],
       "mark": {"type": "circle", "size": 20, "fill": "#a2a2a2", "fillOpacity": 1, "opacity": 1, "stroke": "#666", "strokeWidth": 0.6},
       "encoding": {"x": {"field": "xp", "type": "quantitative", "title": null}, "y": {"field": "v", "type": "quantitative", "title": "neurite junctions"}}},
      {"data": {"name": "brk"}, "transform": [{"filter": "datum.p=='E'"}],
       "mark": {"type": "rule", "stroke": "#666", "strokeWidth": 0.9, "clip": false},
       "encoding": {"x": {"field": "x", "type": "quantitative", "title": null}, "x2": {"field": "x2"}, "y": {"field": "y", "type": "quantitative", "title": "neurite junctions"}, "y2": {"field": "y2"}}},
      {"data": {"name": "pv"}, "transform": [{"filter": "datum.p=='E' && datum.b==0"}],
       "mark": {"type": "text", "fontSize": 12, "baseline": "middle", "fill": "#231f20", "clip": false},
       "encoding": {"x": {"field": "g", "type": "quantitative", "title": null}, "y": {"field": "y", "type": "quantitative", "title": "neurite junctions"}, "text": {"field": "t"}}},
      {"data": {"name": "pv"}, "transform": [{"filter": "datum.p=='E' && datum.b==1"}],
       "mark": {"type": "text", "fontSize": 12, "fontWeight": "bold", "baseline": "middle", "fill": "#231f20", "clip": false},
       "encoding": {"x": {"field": "g", "type": "quantitative", "title": null}, "y": {"field": "y", "type": "quantitative", "title": "neurite junctions"}, "text": {"field": "t"}}},
      {"data": {"name": "ann"}, "transform": [{"filter": "datum.p=='E' && datum.k=='let'"}],
       "mark": {"type": "text", "font": "Liberation Sans", "fontSize": 23, "fontWeight": "bold", "align": "left", "baseline": "alphabetic", "fill": "#000", "clip": false},
       "encoding": {"x": {"field": "x", "type": "quantitative", "title": null}, "y": {"field": "y", "type": "quantitative", "title": "neurite junctions"}, "text": {"field": "t"}}},
      {"data": {"name": "ann"}, "transform": [{"filter": "datum.p=='E' && datum.k=='day'"}],
       "mark": {"type": "text", "fontSize": 16, "align": "left", "baseline": "middle", "fill": "#231f20", "clip": false},
       "encoding": {"x": {"field": "x", "type": "quantitative", "title": null}, "y": {"field": "y", "type": "quantitative", "title": "neurite junctions"}, "text": {"field": "t"}}},
      {"data": {"name": "ann"}, "transform": [{"filter": "datum.p=='E' && datum.k=='grp'"}],
       "mark": {"type": "text", "fontSize": 15.5, "align": "center", "baseline": "middle", "fill": "#231f20", "clip": false},
       "encoding": {"x": {"field": "x", "type": "quantitative", "title": null}, "y": {"field": "y", "type": "quantitative", "title": "neurite junctions"}, "text": {"field": "t"}}},
      {"data": {"name": "ann"}, "transform": [{"filter": "datum.p=='E' && datum.k=='line'"}],
       "mark": {"type": "rule", "stroke": "#231f20", "strokeWidth": 1.2, "clip": false},
       "encoding": {"x": {"field": "x", "type": "quantitative", "title": null}, "x2": {"field": "x2"}, "y": {"field": "y", "type": "quantitative", "title": "neurite junctions"}}}
    ]
  }
]
}
